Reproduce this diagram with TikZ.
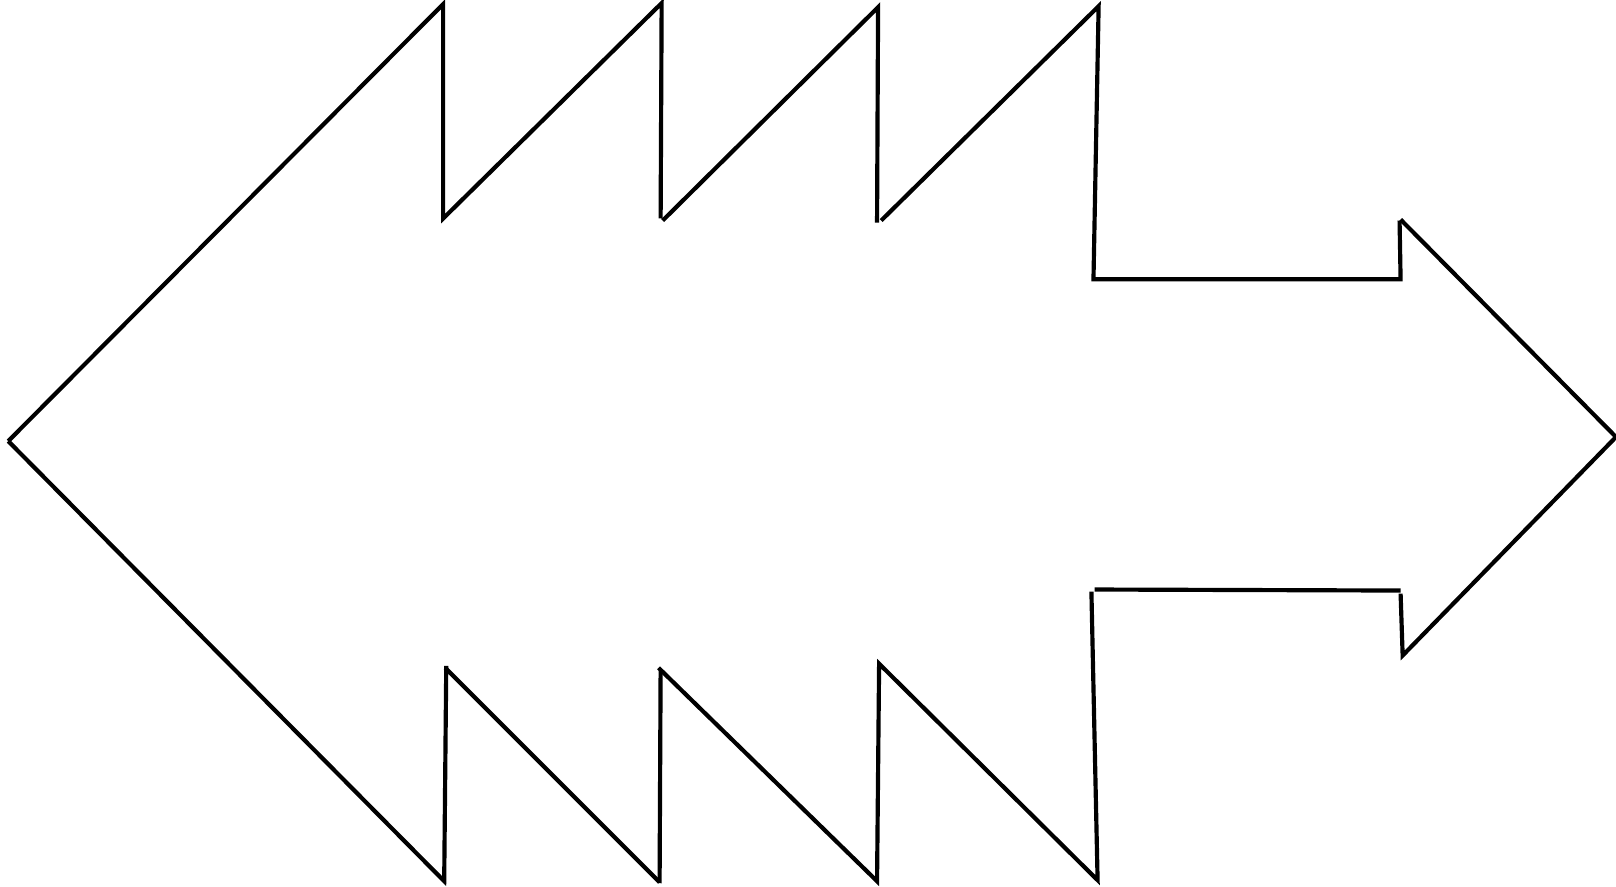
\documentclass[tikz,border=0pt]{standalone}
\begin{document}
\begin{tikzpicture}[x=0.01cm,y=-0.01cm,
  edge/.style={draw=black,line width=1.15pt,line cap=butt,line join=miter}]
\useasboundingbox (0,0) rectangle (1568,860);
% left arrow head and top zigzag
\draw[edge] (8,428) -- (430,4) -- (430,212) -- (642,3) -- (641,212);
\draw[edge] (643,214) -- (852,7) -- (851,216);
\draw[edge] (855,214) -- (1066,6) -- (1061,271) -- (1359,271) -- (1358,214);
% right arrow head
\draw[edge] (1359,213) -- (1568,424) -- (1361,636) -- (1359,576);
\draw[edge] (1359,573) -- (1062,572);
% bottom zigzag
\draw[edge] (1059,574) -- (1065,854) -- (853,644) -- (851,855) -- (639,648);
\draw[edge] (641,650) -- (640,857);
\draw[edge] (640,856) -- (432,648);
\draw[edge] (433,646) -- (431,855) -- (8,428);
\end{tikzpicture}
\end{document}
